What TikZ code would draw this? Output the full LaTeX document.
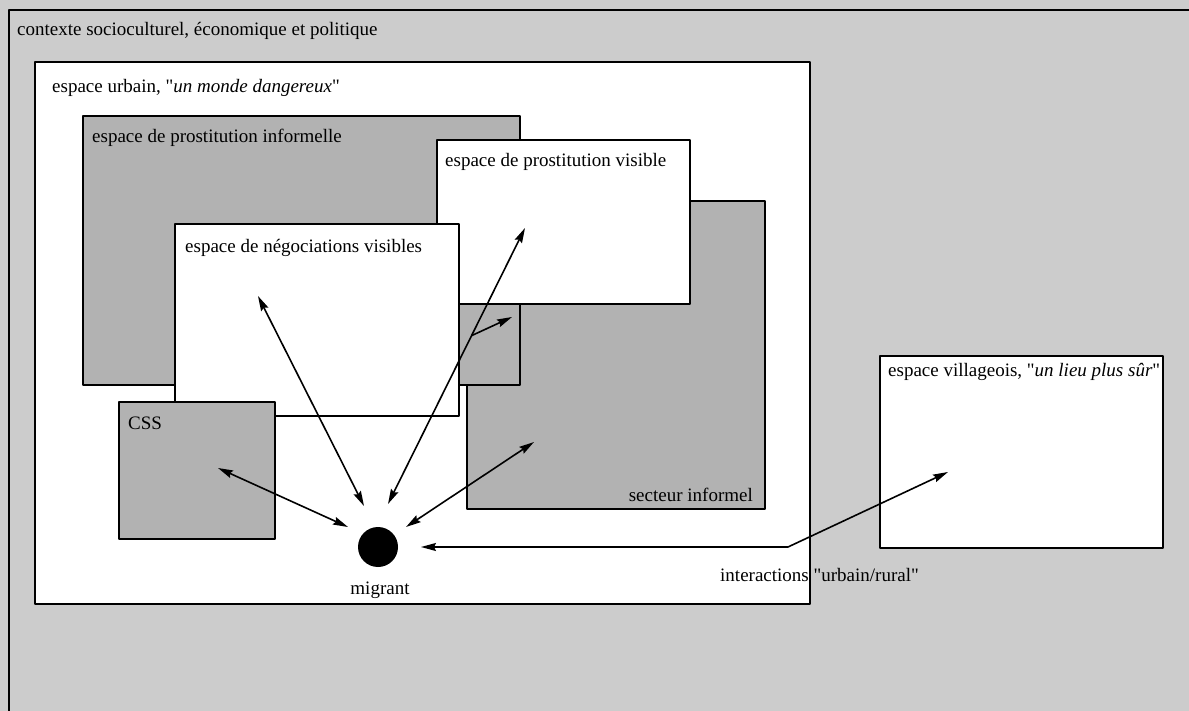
\documentclass[tikz,border=0pt]{standalone}
\usepackage{fontspec}
\setmainfont{Liberation Serif}[Ligatures=TeXOff]
\usetikzlibrary{arrows.meta,calc}
\definecolor{fond}{gray}{0.80}
\definecolor{zone}{gray}{0.70}
\begin{document}
\begin{tikzpicture}[x=1pt, y=-1pt, line join=round, >={Stealth[length=15pt,width=8pt,inset=2pt]},
	cadre/.style={draw, line width=2pt},
	texte/.style={anchor=west, inner sep=0pt, font=\fontsize{19}{22}\selectfont},
	fleche/.style={line width=1.6pt}]
	%Fond et contexte
	\useasboundingbox (0,0) rectangle (1189,711);
	\fill[fond] (0,0) rectangle (1189,711);
	\draw[line width=2pt] (9,711) |- (1189,10);
	\node[texte] (contexte) at (17,31) {contexte socioculturel, économique et politique};
	%Espace urbain et espace villageois
	\draw[cadre, fill=white] (35,62) rectangle (810,604);
	\draw[cadre, fill=white] (880,356) rectangle (1163,548);
	%Les espaces de la ville
	\foreach \xa/\ya/\xb/\yb/\coul in {467/201/765/509/zone, 83/116/520/385/zone,
		437/140/690/304/white, 175/224/459/416/white, 119/402/275/539/zone}
	\draw[cadre, fill=\coul] (\xa,\ya) rectangle (\xb,\yb);
	%Textes
	\node[texte] (urbain) at (52,88) {espace urbain, "\textit{un monde dangereux}"};
	\node[texte] (informelle) at (92,138) {espace de prostitution informelle};
	\node[texte] (visible) at (445,162) {espace de prostitution visible};
	\node[texte] (nego) at (185,248) {espace de négociations visibles};
	\node[texte] (css) at (128,423) {CSS};
	\node[texte, anchor=east] (secteur) at (753,495) {secteur informel};
	\node[texte] (villageois) at (888,372) {espace villageois, "\textit{un lieu plus sûr}"};
	\node[texte] (interactions) at (720,575) {interactions "urbain/rural"};
	%Le migrant
	\node[circle, fill=black, minimum size=40, inner sep=0pt] (migrant) at (378,547) {};
	\node[texte, anchor=center] (nom) at (380,590) {migrant};
	%Extrémités des flèches
	\coordinate (cssA) at (218,468);  \coordinate (cssM) at (348,527);
	\coordinate (negA) at (258,296);  \coordinate (negM) at (364,506);
	\coordinate (visA) at (525,228);  \coordinate (visM) at (388,504);
	\coordinate (secA) at (534,442);  \coordinate (secM) at (406,527);
	\coordinate (vilM) at (421,547);  \coordinate (coude) at (788,547);
	\coordinate (vilA) at (948,472);  \coordinate (infA) at (512,317);
	\coordinate (branche) at ($(visM)!0.61!(visA)$);
	%Flèches
	\foreach \a/\b in {cssA/cssM, negA/negM, visA/visM, secA/secM}
	\draw[fleche, <->] (\a) -- (\b);
	\draw[fleche, ->] (branche) -- (infA);
	\draw[fleche, <->] (vilM) -- (coude) -- (vilA);
\end{tikzpicture}
\end{document}
